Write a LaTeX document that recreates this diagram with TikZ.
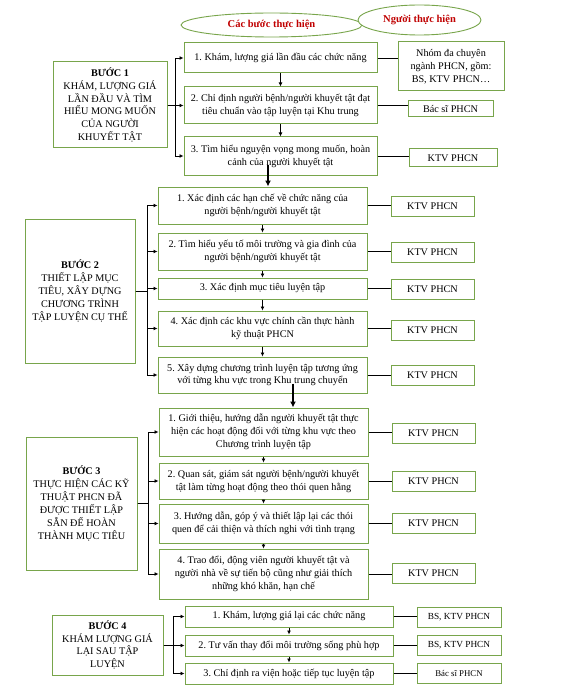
\documentclass[tikz,border=0pt]{standalone}
\usepackage{fontspec}
\setmainfont{Liberation Serif}
\usetikzlibrary{arrows.meta,shapes.geometric,calc}
\definecolor{boxgreen}{RGB}{120,165,75}
\definecolor{hdrred}{RGB}{192,0,0}
\frenchspacing
\begin{document}
\begin{tikzpicture}[x=1pt,y=-1pt,
  every node/.style={font=\fontsize{10.2}{12.9}\selectfont, align=center, inner sep=0pt},
  box/.style={draw=boxgreen, line width=1pt, fill=white},
  hdr/.style={ellipse, draw=boxgreen, line width=0.9pt, font=\fontsize{10.5}{12}\selectfont\bfseries, text=hdrred},
  arr/.style={draw=black, line width=0.8pt, -{Latex[length=4pt,width=4pt]}},
  ln/.style={draw=black, line width=0.8pt},
  bigarr/.style={draw=black, line width=2pt, -{Latex[length=6pt,width=6pt]}}
]
\useasboundingbox (0,0) rectangle (576,695);

% headers
\node[hdr, minimum width=181pt, minimum height=24pt] (h1) at (271.5,25) {Các bước thực hiện};
\node[hdr, minimum width=123pt, minimum height=30pt, fill=white] (h2) at (419.5,20) {Người thực hiện};

% ---------- STEP 1 ----------
\node[box, minimum width=114pt, minimum height=86pt] (L1) at (110,105)
  {\textbf{BƯỚC 1}\\KHÁM, LƯỢNG GIÁ\\LẦN ĐẦU VÀ TÌM\\HIỂU MONG MUỐN\\CỦA NGƯỜI\\KHUYẾT TẬT};
\node[box, minimum width=193pt, minimum height=30pt] (m11) at (280.5,58)
  {1. Khám, lượng giá lần đầu các chức năng};
\node[box, minimum width=193pt, minimum height=37pt] (m12) at (280.5,105.5)
  {2. Chỉ định người bệnh/người khuyết tật đạt\\tiêu chuẩn vào tập luyện tại Khu trung};
\node[box, minimum width=193pt, minimum height=38pt] (m13) at (280.5,156)
  {3. Tìm hiểu nguyện vọng mong muốn, hoàn\\cảnh của người khuyết tật};
\node[box, minimum width=106pt, minimum height=49pt] (r11) at (451,66.5)
  {Nhóm đa chuyên\\ngành PHCN, gồm:\\BS, KTV PHCN…};
\node[box, minimum width=85pt, minimum height=16pt] (r12) at (450.5,109) {Bác sĩ PHCN};
\node[box, minimum width=88pt, minimum height=18pt] (r13) at (453,158) {KTV PHCN};

\coordinate (b1) at (175,0);
\draw[arr] (L1.east) -- (b1 |- L1.east) |- (m11.west);
\draw[arr] (L1.east) -- (b1 |- L1.east) |- (m12.west);
\draw[arr] (L1.east) -- (b1 |- L1.east) |- (m13.west);
\draw[arr] (m11.south) -- (m12.north);
\draw[arr] (m12.south) -- (m13.north);
\draw[ln] (m11.east) -- (m11.east -| r11.west);
\draw[ln] (m12.east) -- (m12.east -| r12.west);
\draw[ln] (m13.east) -- (m13.east -| r13.west);

% ---------- STEP 2 ----------
\node[box, minimum width=110pt, minimum height=144pt] (L2) at (80,291)
  {\textbf{BƯỚC 2}\\THIẾT LẬP MỤC\\TIÊU, XÂY DỰNG\\CHƯƠNG TRÌNH\\TẬP LUYỆN CỤ THỂ};
\node[box, minimum width=209pt, minimum height=37pt] (m21) at (262.5,205.5)
  {1. Xác định các hạn chế về chức năng của\\người bệnh/người khuyết tật};
\node[box, minimum width=209pt, minimum height=37pt] (m22) at (262.5,251.5)
  {2. Tìm hiểu yếu tố môi trường và gia đình của\\người bệnh/người khuyết tật};
\node[box, minimum width=209pt, minimum height=21pt] (m23) at (262.5,288.5)
  {3. Xác định mục tiêu luyện tập};
\node[box, minimum width=209pt, minimum height=35pt] (m24) at (262.5,328.5)
  {4. Xác định các khu vực chính cần thực hành\\kỹ thuật PHCN};
\node[box, minimum width=209pt, minimum height=36pt] (m25) at (262.5,375)
  {5. Xây dựng chương trình luyện tập tương ứng\\với từng khu vực trong Khu trung chuyển};
\node[box, minimum width=83pt, minimum height=20pt] (r21) at (432.5,206) {KTV PHCN};
\node[box, minimum width=83pt, minimum height=20pt] (r22) at (432.5,252.5) {KTV PHCN};
\node[box, minimum width=83pt, minimum height=20pt] (r23) at (432.5,289) {KTV PHCN};
\node[box, minimum width=83pt, minimum height=20pt] (r24) at (432.5,330) {KTV PHCN};
\node[box, minimum width=83pt, minimum height=20pt] (r25) at (432.5,375) {KTV PHCN};

\coordinate (b2) at (147,0);
\foreach \m in {m21,m22,m23,m24,m25}
  \draw[arr] (L2.east) -- (b2 |- L2.east) |- (\m.west);
\draw[arr] (m21.south) -- (m22.north);
\draw[arr] (m22.south) -- (m23.north);
\draw[arr] (m23.south) -- (m24.north);
\draw[arr] (m24.south) -- (m25.north);
\foreach \i in {1,...,5}
  \draw[ln] (m2\i.east) -- (m2\i.east -| r2\i.west);

\draw[bigarr] ($(m13.south)+(-12.5,-10)$) -- ($(m21.north)+(5.5,0)$);

% ---------- STEP 3 ----------
\node[box, minimum width=111pt, minimum height=133pt] (L3) at (81.5,503.5)
  {\textbf{BƯỚC 3}\\THỰC HIỆN CÁC KỸ\\THUẬT PHCN ĐÃ\\ĐƯỢC THIẾT LẬP\\SẴN ĐỂ HOÀN\\THÀNH MỤC TIÊU};
\node[box, minimum width=209pt, minimum height=48pt] (m31) at (263.5,432)
  {1. Giới thiệu, hướng dẫn người khuyết tật thực\\hiện các hoạt động đối với từng khu vực theo\\Chương trình luyện tập};
\node[box, minimum width=209pt, minimum height=36pt] (m32) at (263.5,481)
  {2. Quan sát, giám sát người bệnh/người khuyết\\tật làm từng hoạt động theo thói quen hằng};
\node[box, minimum width=209pt, minimum height=39pt] (m33) at (263.5,523.5)
  {3. Hướng dẫn, góp ý và thiết lập lại các thói\\quen để cải thiện và thích nghi với tình trạng};
\node[box, minimum width=209pt, minimum height=50pt] (m34) at (263.5,574)
  {4. Trao đổi, động viên người khuyết tật và\\người nhà về sự tiến bộ cũng như giải thích\\những khó khăn, hạn chế};
\node[box, minimum width=83pt, minimum height=20pt] (r31) at (433.5,433) {KTV PHCN};
\node[box, minimum width=83pt, minimum height=20pt] (r32) at (433.5,481) {KTV PHCN};
\node[box, minimum width=83pt, minimum height=20pt] (r33) at (433.5,523) {KTV PHCN};
\node[box, minimum width=83pt, minimum height=20pt] (r34) at (433.5,573) {KTV PHCN};

\coordinate (b3) at (148,0);
\foreach \m in {m31,m32,m33,m34}
  \draw[arr] (L3.east) -- (b3 |- L3.east) |- (\m.west);
\draw[arr] (m31.south) -- (m32.north);
\draw[arr] (m32.south) -- (m33.north);
\draw[arr] (m33.south) -- (m34.north);
\foreach \i in {1,...,4}
  \draw[ln] (m3\i.east) -- (m3\i.east -| r3\i.west);

\draw[bigarr] ($(m25.south)+(30.5,-10)$) -- ($(m31.north)+(29.5,0)$);

% ---------- STEP 4 ----------
\node[box, minimum width=111pt, minimum height=60pt] (L4) at (107.5,645)
  {\textbf{BƯỚC 4}\\KHÁM LƯỢNG GIÁ\\LẠI SAU TẬP\\LUYỆN};
\node[box, minimum width=208pt, minimum height=21pt] (m41) at (289,616.5)
  {1. Khám, lượng giá lại các chức năng};
\node[box, minimum width=208pt, minimum height=21pt] (m42) at (289,645.5)
  {2. Tư vấn thay đổi môi trường sống phù hợp};
\node[box, minimum width=208pt, minimum height=21pt] (m43) at (289,673.5)
  {3. Chỉ định ra viện hoặc tiếp tục luyện tập};
\node[box, minimum width=84pt, minimum height=20pt, font=\fontsize{9.3}{10}\selectfont] (r41) at (459,617) {BS, KTV PHCN};
\node[box, minimum width=84pt, minimum height=20pt, font=\fontsize{9.3}{10}\selectfont] (r42) at (459,645.5) {BS, KTV PHCN};
\node[box, minimum width=84pt, minimum height=20pt, font=\fontsize{8.8}{10}\selectfont] (r43) at (459,673) {Bác sĩ PHCN};

\coordinate (b4) at (173,0);
\foreach \m in {m41,m42,m43}
  \draw[arr] (L4.east) -- (b4 |- L4.east) |- (\m.west);
\draw[arr] (m41.south) -- (m42.north);
\draw[arr] (m42.south) -- (m43.north);
\foreach \i in {1,...,3}
  \draw[ln] (m4\i.east) -- (m4\i.east -| r4\i.west);

\end{tikzpicture}
\end{document}
